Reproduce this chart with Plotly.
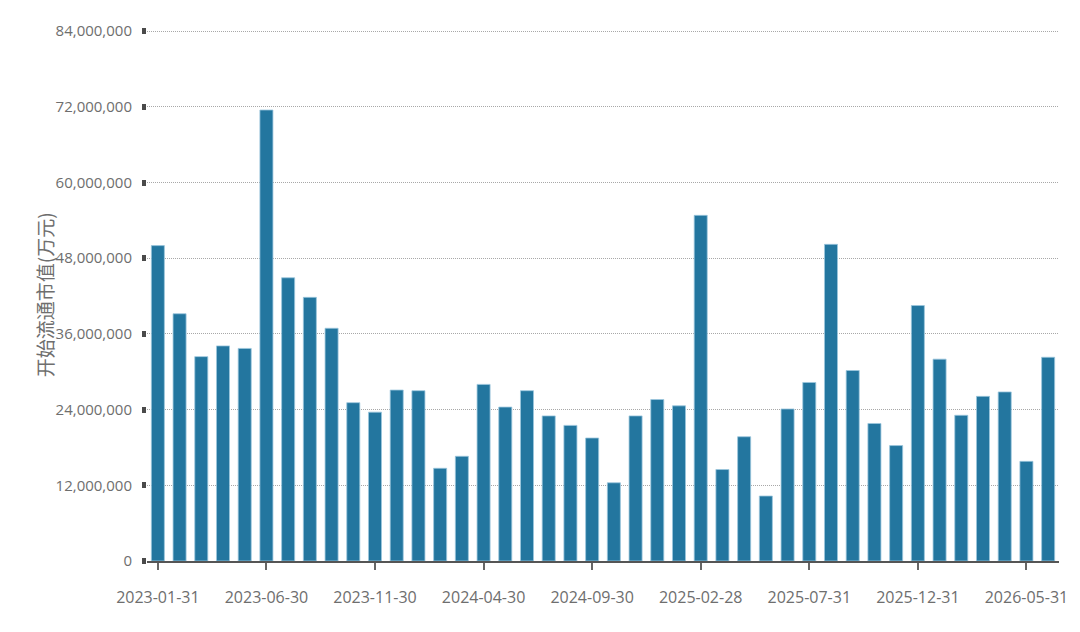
import plotly.graph_objects as go

months = [
    "2023-01-31", "2023-02-28", "2023-03-31", "2023-04-30", "2023-05-31", "2023-06-30",
    "2023-07-31", "2023-08-31", "2023-09-30", "2023-10-31", "2023-11-30", "2023-12-31",
    "2024-01-31", "2024-02-29", "2024-03-31", "2024-04-30", "2024-05-31", "2024-06-30",
    "2024-07-31", "2024-08-31", "2024-09-30", "2024-10-31", "2024-11-30", "2024-12-31",
    "2025-01-31", "2025-02-28", "2025-03-31", "2025-04-30", "2025-05-31", "2025-06-30",
    "2025-07-31", "2025-08-31", "2025-09-30", "2025-10-31", "2025-11-30", "2025-12-31",
    "2026-01-31", "2026-02-28", "2026-03-31", "2026-04-30", "2026-05-31", "2026-06-30",
]

values = [
    50.0e6, 39.2e6, 32.4e6, 34.1e6, 33.7e6, 71.5e6,
    44.9e6, 41.8e6, 36.9e6, 25.1e6, 23.6e6, 27.1e6,
    27.0e6, 14.7e6, 16.6e6, 28.0e6, 24.4e6, 27.0e6,
    23.0e6, 21.5e6, 19.5e6, 12.4e6, 23.0e6, 25.6e6,
    24.6e6, 54.8e6, 14.5e6, 19.7e6, 10.3e6, 24.1e6,
    28.3e6, 50.2e6, 30.2e6, 21.8e6, 18.3e6, 40.5e6,
    32.0e6, 23.1e6, 26.1e6, 26.8e6, 15.8e6, 32.3e6,
]

x_tick_labels = ["2023-01-31", "2023-06-30", "2023-11-30", "2024-04-30", "2024-09-30",
                 "2025-02-28", "2025-07-31", "2025-12-31", "2026-05-31"]
y_tick_values = [0, 12e6, 24e6, 36e6, 48e6, 60e6, 72e6, 84e6]
y_title = "开始流通市值(万元)"

FONT = "Open Sans, Liberation Sans, sans-serif"
TEXT_COLOR = "#6e6e6e"

fig = go.Figure()
fig.add_trace(go.Bar(
    x=months,
    y=values,
    marker=dict(color="#23769f", line=dict(color="#9cc6dd", width=0.8)),
    hoverinfo="x+y",
))

fig.update_layout(
    width=1080,
    height=632,
    margin=dict(l=147, r=15, t=28, b=71),
    paper_bgcolor="white",
    plot_bgcolor="white",
    bargap=0.4,
    showlegend=False,
    font=dict(family=FONT, color=TEXT_COLOR, size=15),
    xaxis=dict(
        type="category",
        tickmode="array",
        tickvals=x_tick_labels,
        ticktext=x_tick_labels,
        showgrid=False,
        showline=True,
        linecolor="#555555",
        linewidth=2,
        ticks="outside",
        ticklen=7,
        tickwidth=1.5,
        tickcolor="#666666",
        tickfont=dict(family=FONT, size=16, color=TEXT_COLOR),
        ticklabelstandoff=14,
    ),
    yaxis=dict(
        range=[0, 84.5e6],
        tickmode="array",
        tickvals=y_tick_values,
        tickformat=",d",
        showgrid=True,
        gridcolor="#a8a8a8",
        gridwidth=1,
        griddash="1px,1px",
        zeroline=False,
        showline=False,
        ticks="outside",
        ticklen=4,
        tickwidth=6,
        tickcolor="#4a4a4a",
        tickfont=dict(family=FONT, size=15, color=TEXT_COLOR),
        ticklabelstandoff=7,
    ),
    annotations=[dict(
        text=y_title,
        xref="paper", yref="paper",
        x=-0.1122, y=0.5,
        xanchor="center", yanchor="middle",
        textangle=-90,
        showarrow=False,
        font=dict(family="Noto Sans CJK SC", size=19, color=TEXT_COLOR),
    )],
)

fig.write_html("out.html")
